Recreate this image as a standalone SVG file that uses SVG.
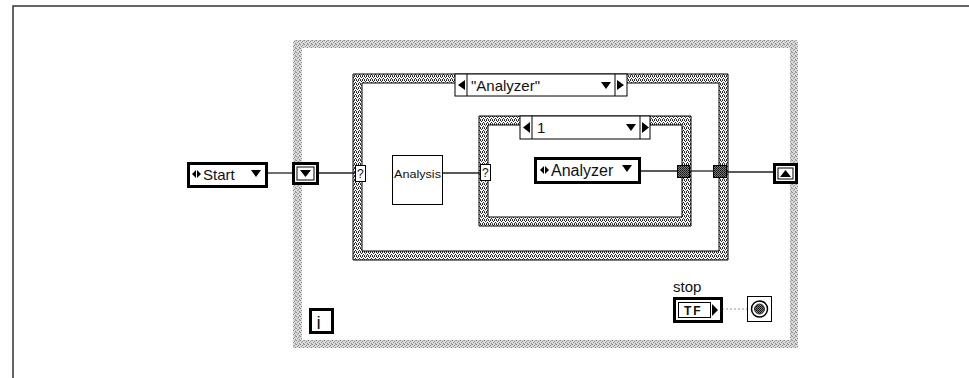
<svg xmlns="http://www.w3.org/2000/svg" width="969" height="378" viewBox="0 0 969 378">
<defs>
<pattern id="loopTex" width="4" height="4" patternUnits="userSpaceOnUse">
<rect width="4" height="4" fill="#dadada"/>
<rect x="0" y="0" width="1" height="1" fill="#8a8a8a"/>
<rect x="2" y="1" width="1" height="1" fill="#8a8a8a"/>
<rect x="1" y="2" width="1" height="1" fill="#9a9a9a"/>
<rect x="3" y="3" width="1" height="1" fill="#8a8a8a"/>
<rect x="3" y="0" width="1" height="1" fill="#b0b0b0"/>
</pattern>
<pattern id="caseTex" width="4" height="4" patternUnits="userSpaceOnUse">
<rect width="4" height="4" fill="#f6f6f6"/>
<rect x="0" y="0" width="1" height="1" fill="#222"/>
<rect x="2" y="0" width="1" height="1" fill="#222"/>
<rect x="1" y="1" width="1" height="1" fill="#333"/>
<rect x="3" y="2" width="1" height="1" fill="#222"/>
<rect x="0" y="3" width="1" height="1" fill="#444"/>
<rect x="2" y="3" width="1" height="1" fill="#333"/>
</pattern>
<pattern id="tunTex" width="2" height="2" patternUnits="userSpaceOnUse">
<rect width="2" height="2" fill="#7a7a7a"/>
<rect x="0" y="0" width="1" height="1" fill="#111"/>
<rect x="1" y="1" width="1" height="1" fill="#222"/>
</pattern>
<style>
.txt{font-family:"Liberation Sans",Arial,sans-serif;fill:#111}
.wire{stroke:#222;stroke-width:1.3;fill:none}
.thick{fill:#fff;stroke:#000;stroke-width:3}
.thin{fill:#fff;stroke:#000;stroke-width:1}
.tri{fill:#000}
.term{fill:#fff;stroke:#000;stroke-width:1}
.tun{fill:url(#tunTex);stroke:#000;stroke-width:1}
</style>
</defs>
<rect width="969" height="378" fill="#fff"/>
<g id="frame">
<path d="M13 378 V6 H969" fill="none" stroke="#333" stroke-width="1.5"/>
</g>
<g id="whileLoop">
<path d="M296 40 H795 Q798 40 798 43 V348 H293 V43 Q293 40 296 40 Z M302 48 V340 H790 V48 Z" fill="url(#loopTex)" fill-rule="evenodd"/>
</g>
<g id="caseOuter">
<path d="M353 74 H728 V260 H353 Z M362 83 V251 H719 V83 Z" fill="url(#caseTex)" fill-rule="evenodd" stroke="#000" stroke-width="1"/>
</g>
<g id="selectorOuter">
<rect x="455" y="74" width="172" height="22" class="thin"/>
<line x1="467" y1="74" x2="467" y2="96" stroke="#000"/>
<line x1="615" y1="74" x2="615" y2="96" stroke="#000"/>
<polygon points="465,80 465,90 458,85" class="tri"/>
<polygon points="617,80 617,90 624,85" class="tri"/>
<polygon points="601,82 611,82 606,89" class="tri"/>
<text x="471" y="91" class="txt" font-size="15">"Analyzer"</text>
</g>
<g id="caseInner">
<path d="M479 116 H691 V226 H479 Z M488 125 V217 H682 V125 Z" fill="url(#caseTex)" fill-rule="evenodd" stroke="#000" stroke-width="1"/>
</g>
<g id="selectorInner">
<rect x="520" y="116" width="130" height="23" class="thin"/>
<line x1="532" y1="116" x2="532" y2="139" stroke="#000"/>
<line x1="640" y1="116" x2="640" y2="139" stroke="#000"/>
<polygon points="530,122 530,133 523,127.5" class="tri"/>
<polygon points="642,122 642,133 649,127.5" class="tri"/>
<polygon points="626,124 636,124 631,131" class="tri"/>
<text x="537" y="133" class="txt" font-size="15">1</text>
</g>
<g id="connectors">
<line x1="267" y1="173" x2="292" y2="173" class="wire"/>
<line x1="318" y1="173" x2="355" y2="173" class="wire"/>
<line x1="443" y1="173" x2="480" y2="173" class="wire"/>
<line x1="640" y1="171" x2="677" y2="171" class="wire"/>
<line x1="690" y1="171" x2="713" y2="171" class="wire"/>
<line x1="727" y1="172" x2="773" y2="172" class="wire"/>
<line x1="722" y1="309" x2="747" y2="309" stroke="#999" stroke-width="1" stroke-dasharray="2,2"/>
</g>
<g id="start">
<rect x="188.5" y="163.5" width="78" height="23" class="thick"/>
<polygon points="196,170 196,178 192,174" class="tri"/>
<polygon points="197,170 197,178 201,174" class="tri"/>
<text x="203" y="180" class="txt" font-size="15">Start</text>
<polygon points="251,170 261,170 256,177" class="tri"/>
</g>
<g id="shiftLeft">
<rect x="293.5" y="163.5" width="24" height="20" class="thick"/>
<rect x="297" y="167" width="17" height="13" fill="#fff" stroke="#000" stroke-width="1"/>
<polygon points="300,170 311,170 305.5,177" class="tri"/>
</g>
<g id="selOuterTerm">
<rect x="355.5" y="165.5" width="10" height="16" class="term"/>
<text x="357" y="178" class="txt" font-size="12">?</text>
</g>
<g id="analysis">
<rect x="392.5" y="155.5" width="50" height="49" class="thin"/>
<text x="394" y="178" class="txt" font-size="10.5" textLength="47" lengthAdjust="spacingAndGlyphs">Analysis</text>
</g>
<g id="selInnerTerm">
<rect x="480.5" y="164.5" width="10" height="16" class="term"/>
<text x="482" y="177" class="txt" font-size="12">?</text>
</g>
<g id="enumAnalyzer">
<rect x="535.5" y="158.5" width="104" height="24" class="thick"/>
<polygon points="544,166 544,174 540,170" class="tri"/>
<polygon points="545,166 545,174 549,170" class="tri"/>
<text x="551" y="176" class="txt" font-size="16">Analyzer</text>
<polygon points="622,165 632,165 627,172" class="tri"/>
</g>
<g id="tunnelInner">
<rect x="677.5" y="165.5" width="12" height="12" class="tun"/>
</g>
<g id="tunnelOuter">
<rect x="713.5" y="165.5" width="13" height="12" class="tun"/>
</g>
<g id="shiftRight">
<rect x="774.5" y="164.5" width="22" height="18" class="thick"/>
<rect x="778" y="168" width="15" height="11" fill="#fff" stroke="#000" stroke-width="1"/>
<polygon points="780,177 791,177 785.5,170" class="tri"/>
</g>
<g id="iteration">
<rect x="310.5" y="309.5" width="22" height="23" class="thick"/>
<text x="316.5" y="329" class="txt" font-size="19">i</text>
</g>
<g id="stopControl">
<text x="673" y="292" class="txt" font-size="15">stop</text>
<rect x="674.5" y="298.5" width="47" height="23" class="thick"/>
<rect x="678.5" y="302.5" width="32" height="15" fill="#fff" stroke="#000" stroke-width="1"/>
<text x="684" y="315" class="txt" font-size="12" font-weight="bold" letter-spacing="2">TF</text>
<polygon points="712,304 712,316 718,310" class="tri"/>
</g>
<g id="stopTerminal">
<rect x="747.5" y="296.5" width="24" height="25" class="thin" stroke-width="1.5"/>
<circle cx="759.5" cy="309" r="8" fill="#fff" stroke="#000" stroke-width="1.5"/>
<circle cx="759.5" cy="309" r="5" fill="url(#tunTex)" stroke="#333" stroke-width="1"/>
</g>
</svg>
